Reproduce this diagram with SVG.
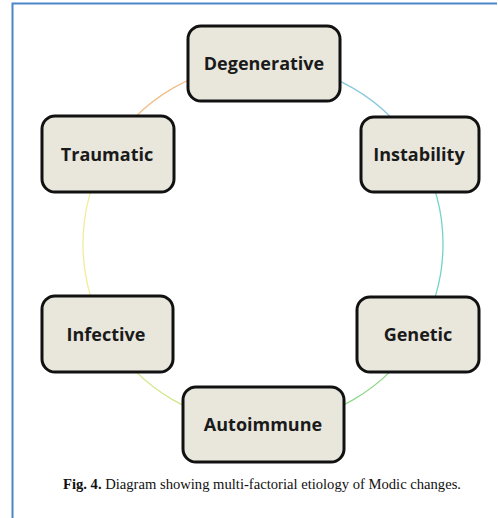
<svg xmlns="http://www.w3.org/2000/svg" width="498" height="518" viewBox="0 0 498 518">
<style>
.box{fill:#e9e7dc;stroke:#111;stroke-width:3}
.lbl{font-family:"Open Sans","Noto Sans",sans-serif;font-weight:700;font-size:18px;fill:#1a1a1a;text-anchor:middle;dominant-baseline:central}
.arc{fill:none;stroke-width:1.3}
.cap{font-family:"Liberation Serif","DejaVu Serif",serif;font-size:15px;fill:#111}
</style>
<rect width="498" height="518" fill="#fff"/>
<path d="M12.5 518 V3.5 H497" fill="none" stroke="#4a86c8" stroke-width="2"/>
<g id="connectors">
<path class="arc" stroke="#8ec8dc" d="M263 64 A180 180 0 0 1 418.9 154"/>
<path class="arc" stroke="#72d4c6" d="M418.9 154 A180 180 0 0 1 418.9 334"/>
<path class="arc" stroke="#8fd88a" d="M418.9 334 A180 180 0 0 1 263 424"/>
<path class="arc" stroke="#cfe88a" d="M263 424 A180 180 0 0 1 107.1 334"/>
<path class="arc" stroke="#f2ec9a" d="M107.1 334 A180 180 0 0 1 107.1 154"/>
<path class="arc" stroke="#f0c08a" d="M107.1 154 A180 180 0 0 1 263 64"/>
</g>
<g id="degenerative"><rect class="box" x="188" y="26" width="152" height="75" rx="13"/><text class="lbl" x="264" y="63">Degenerative</text></g>
<g id="traumatic"><rect class="box" x="42" y="116" width="132" height="76" rx="13"/><text class="lbl" x="107" y="154">Traumatic</text></g>
<g id="instability"><rect class="box" x="361" y="117" width="118" height="75" rx="13"/><text class="lbl" x="419" y="154">Instability</text></g>
<g id="infective"><rect class="box" x="42" y="296" width="131" height="76" rx="13"/><text class="lbl" x="106" y="334">Infective</text></g>
<g id="genetic"><rect class="box" x="357" y="297" width="122" height="75" rx="13"/><text class="lbl" x="418" y="334">Genetic</text></g>
<g id="autoimmune"><rect class="box" x="183" y="387" width="161" height="75" rx="13"/><text class="lbl" x="263" y="424">Autoimmune</text></g>
<text class="cap" x="63" y="489" textLength="398" lengthAdjust="spacingAndGlyphs"><tspan font-weight="bold">Fig. 4.</tspan> Diagram showing multi-factorial etiology of Modic changes.</text>
</svg>
